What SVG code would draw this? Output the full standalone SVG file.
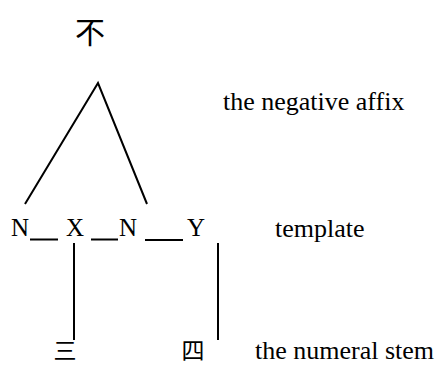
<svg xmlns="http://www.w3.org/2000/svg" width="439" height="365" viewBox="0 0 439 365">
<style>
.lat{font-family:"Liberation Serif","Times New Roman",serif;font-size:25px;fill:#000}
.lbl{font-family:"Liberation Serif","Times New Roman",serif;font-size:26px;fill:#000}
.cjk{font-family:"Noto Sans CJK SC","Noto Sans CJK JP",sans-serif;fill:#000}
.ln{stroke:#000;stroke-width:2;fill:none}
</style>
<rect width="439" height="365" fill="#fff"/>
<g id="neg"><text class="cjk" x="90" y="43" font-size="30" text-anchor="middle">不</text></g>
<g id="negLabel"><text class="lbl" x="223" y="110">the negative affix</text></g>
<g id="template">
<text class="lat" x="11" y="236">N</text>
<text class="lat" x="66" y="236">X</text>
<text class="lat" x="119" y="236">N</text>
<text class="lat" x="187" y="236">Y</text>
<line class="ln" x1="30" y1="239.5" x2="58" y2="239.5" stroke-width="3"/>
<line class="ln" x1="91" y1="239.5" x2="118" y2="239.5" stroke-width="3"/>
<line class="ln" x1="145" y1="240" x2="183" y2="240" stroke-width="1.2"/>
</g>
<g id="templateLabel"><text class="lbl" x="275" y="237">template</text></g>
<g id="san"><text class="cjk" x="65" y="359" font-size="23" text-anchor="middle">三</text></g>
<g id="si"><text class="cjk" x="193" y="359" font-size="23" text-anchor="middle">四</text></g>
<g id="stemLabel"><text class="lbl" x="255" y="359">the numeral stem</text></g>
<g id="connectors">
<polyline class="ln" points="25,204 98,83 147,204"/>
<line class="ln" x1="74" y1="243" x2="74" y2="340"/>
<line class="ln" x1="218" y1="243" x2="218" y2="340"/>
</g>
</svg>
